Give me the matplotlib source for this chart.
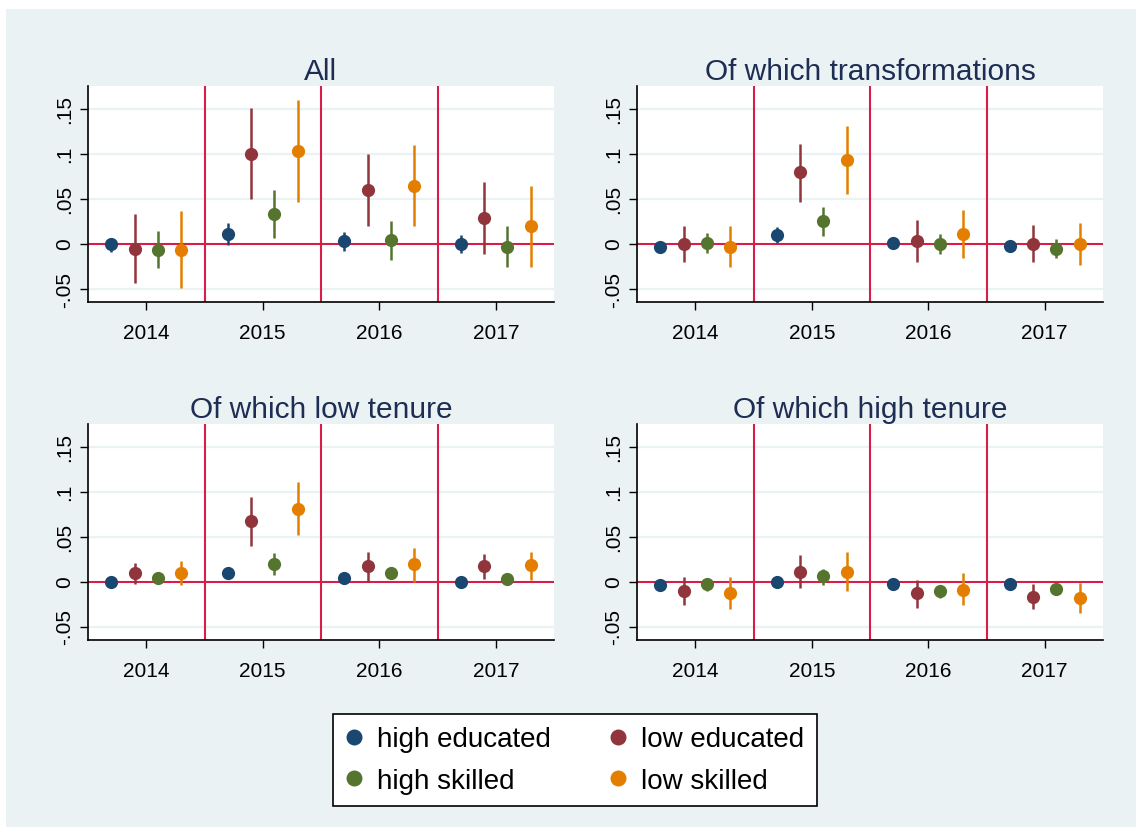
import numpy as np
import matplotlib
matplotlib.use("Agg")
import matplotlib.pyplot as plt
from matplotlib.lines import Line2D

plt.rcParams['font.family'] = ['Liberation Sans', 'DejaVu Sans']

years = [2014, 2015, 2016, 2017]
groups = ["high educated", "low educated", "high skilled", "low skilled"]
colors = ["#1A476F", "#90353B", "#55752F", "#E37E00"]
offsets = [-0.3, -0.1, 0.1, 0.3]
titles = ["All", "Of which transformations", "Of which low tenure", "Of which high tenure"]

# point estimates, rows = groups, cols = years
est_all = [[-0.001, 0.011, 0.003, -0.001],
           [-0.006, 0.100, 0.059, 0.028],
           [-0.007, 0.033, 0.004, -0.004],
           [-0.007, 0.103, 0.064, 0.020]]
lo_all = [[-0.009, -0.002, -0.008, -0.011],
          [-0.044, 0.050, 0.019, -0.012],
          [-0.027, 0.006, -0.018, -0.026],
          [-0.049, 0.046, 0.019, -0.026]]
hi_all = [[0.006, 0.023, 0.013, 0.009],
          [0.033, 0.151, 0.099, 0.068],
          [0.014, 0.059, 0.025, 0.020],
          [0.036, 0.160, 0.109, 0.064]]

est_trans = [[-0.004, 0.010, 0.001, -0.003],
             [-0.001, 0.079, 0.003, 0.000],
             [0.001, 0.025, 0.000, -0.006],
             [-0.004, 0.093, 0.011, 0.000]]
lo_trans = [[-0.008, 0.001, -0.003, -0.007],
            [-0.021, 0.046, -0.020, -0.020],
            [-0.011, 0.008, -0.012, -0.016],
            [-0.026, 0.055, -0.016, -0.024]]
hi_trans = [[0.000, 0.018, 0.005, 0.001],
            [0.019, 0.111, 0.026, 0.021],
            [0.012, 0.041, 0.011, 0.005],
            [0.020, 0.131, 0.037, 0.023]]

est_low = [[0.000, 0.009, 0.004, 0.000],
           [0.009, 0.067, 0.017, 0.017],
           [0.004, 0.019, 0.010, 0.003],
           [0.010, 0.081, 0.020, 0.018]]
lo_low = [[-0.003, 0.006, 0.001, -0.003],
          [-0.003, 0.040, 0.000, 0.003],
          [0.000, 0.007, 0.005, 0.000],
          [-0.004, 0.052, 0.000, 0.002]]
hi_low = [[0.003, 0.012, 0.007, 0.003],
          [0.021, 0.094, 0.033, 0.031],
          [0.008, 0.032, 0.015, 0.006],
          [0.023, 0.111, 0.037, 0.033]]

est_high = [[-0.004, 0.000, -0.003, -0.003],
            [-0.010, 0.011, -0.013, -0.017],
            [-0.003, 0.006, -0.010, -0.008],
            [-0.013, 0.011, -0.009, -0.018]]
lo_high = [[-0.007, -0.003, -0.006, -0.006],
           [-0.026, -0.007, -0.029, -0.031],
           [-0.010, -0.004, -0.018, -0.013],
           [-0.030, -0.010, -0.026, -0.035]]
hi_high = [[-0.001, 0.003, 0.000, 0.000],
           [0.005, 0.030, 0.002, -0.003],
           [0.004, 0.014, -0.004, -0.003],
           [0.005, 0.033, 0.009, -0.002]]

panels = [(est_all, lo_all, hi_all), (est_trans, lo_trans, hi_trans),
          (est_low, lo_low, hi_low), (est_high, lo_high, hi_high)]

W, H = 1136, 828
fig = plt.figure(figsize=(W / 100, H / 100), dpi=100, facecolor="white")

# stata-like graph region background
bg = fig.add_axes([6 / W, 0, 1 - 6 / W, 1 - 10 / H], zorder=-5)
bg.set_facecolor("#EAF2F3")
bg.set_xticks([])
bg.set_yticks([])
for s in bg.spines.values():
    s.set_visible(False)

ax_pos = [(88, 87), (637, 87), (88, 425), (637, 425)]
red = "#D81E48"
grid_c = "#EAF2F3"

for k, (est, lo, hi) in enumerate(panels):
    x0, y0 = ax_pos[k]
    ax = fig.add_axes([x0 / W, 1 - (y0 + 216) / H, 466 / W, 216 / H])
    ax.set_facecolor("white")
    ax.set_xlim(2013.5, 2017.5)
    ax.set_ylim(-0.065, 0.175)
    ax.set_yticks([-0.05, 0, 0.05, 0.1, 0.15])
    ax.set_yticklabels(["-.05", "0", ".05", ".1", ".15"], rotation=90, va="center", fontsize=15)
    ax.set_xticks(years)
    ax.set_xticklabels([str(y) for y in years], fontsize=15)
    ax.tick_params(axis="both", length=6, width=1, color="black", direction="out", pad=4)
    ax.tick_params(axis="x", pad=9)
    for yv in [-0.05, 0.05, 0.1, 0.15]:
        ax.axhline(yv, color=grid_c, lw=1.6, zorder=1)
    for s in ["top", "right"]:
        ax.spines[s].set_visible(False)
    for s in ["left", "bottom"]:
        ax.spines[s].set_linewidth(1.2)
    for xv in [2014.5, 2015.5, 2016.5]:
        ax.axvline(xv, color=red, lw=1.5, zorder=2)
    ax.axhline(0, color=red, lw=1.5, zorder=2)
    for g in range(4):
        xs = np.array(years) + offsets[g]
        ax.vlines(xs, lo[g], hi[g], color=colors[g], lw=1.8, zorder=3)
        ax.plot(xs, est[g], "o", color=colors[g], ms=9.5, mec="none", zorder=4)
    ax.set_title(titles[k], fontsize=21.5, color="#1E2D53", pad=5)

handles = [Line2D([], [], marker="o", ls="none", color=c, ms=11.5, mec="none") for c in colors]
order = [0, 2, 1, 3]
leg = fig.legend([handles[i] for i in order], [groups[i] for i in order], ncol=2, loc="center",
                 bbox_to_anchor=(575 / W, 1 - 761 / H),
                 fontsize=20, frameon=True, fancybox=False, edgecolor="black", framealpha=1,
                 handletextpad=0.55, columnspacing=2.1, borderpad=0.45, labelspacing=0.55,
                 handlelength=0.6)
leg.get_frame().set_linewidth(1.2)

fig.savefig("out.png", dpi=100, facecolor="white")
